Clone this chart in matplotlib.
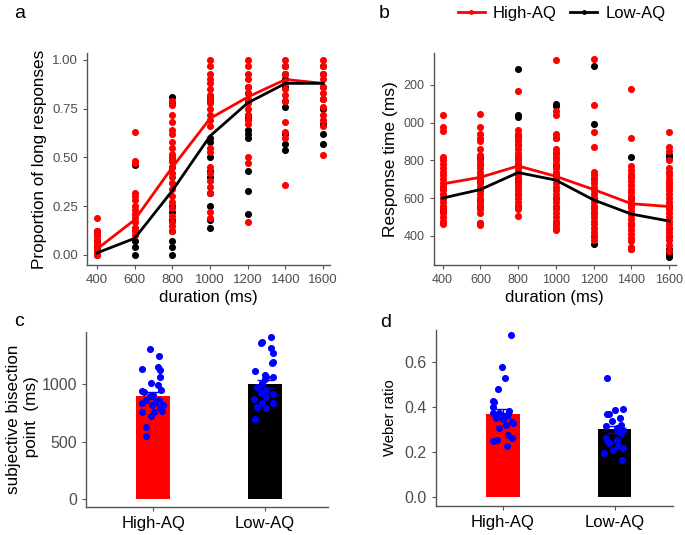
import numpy as np
import matplotlib.pyplot as plt
from matplotlib.lines import Line2D

plt.rcParams['font.family'] = ['Liberation Sans', 'DejaVu Sans']

durations = [400, 600, 800, 1000, 1200, 1400, 1600]
groups = ['High-AQ', 'Low-AQ']

# panel a: proportion of long responses
prop_high_mean = [0.03, 0.18, 0.45, 0.70, 0.81, 0.90, 0.88]
prop_low_mean = [0.01, 0.085, 0.33, 0.61, 0.78, 0.88, 0.88]
prop_high_pts = [
    [0.19, 0.12, 0.10, 0.08, 0.06, 0.05, 0.03, 0.02, 0.0],
    [0.63, 0.48, 0.47, 0.32, 0.30, 0.28, 0.25, 0.23, 0.21, 0.19, 0.17, 0.14, 0.12, 0.10],
    [0.79, 0.77, 0.72, 0.68, 0.64, 0.62, 0.58, 0.55, 0.52, 0.50, 0.48, 0.45, 0.42, 0.40,
     0.37, 0.34, 0.30, 0.27, 0.24, 0.20, 0.17, 0.15, 0.12],
    [1.0, 0.97, 0.93, 0.90, 0.88, 0.85, 0.82, 0.80, 0.78, 0.75, 0.72, 0.69, 0.66, 0.55,
     0.53, 0.45, 0.42, 0.38, 0.35, 0.32, 0.22, 0.19],
    [1.0, 0.97, 0.93, 0.90, 0.86, 0.83, 0.80, 0.78, 0.75, 0.72, 0.69, 0.67, 0.50, 0.47, 0.17],
    [1.0, 0.97, 0.93, 0.88, 0.85, 0.82, 0.79, 0.68, 0.63, 0.60, 0.36],
    [1.0, 0.97, 0.93, 0.90, 0.86, 0.83, 0.80, 0.76, 0.72, 0.69, 0.66, 0.51],
]
prop_low_pts = [
    [0.12, 0.10, 0.07, 0.04, 0.03, 0.0],
    [0.46, 0.14, 0.07, 0.04, 0.0],
    [0.81, 0.78, 0.50, 0.48, 0.45, 0.25, 0.22, 0.18, 0.12, 0.07, 0.04, 0.0],
    [0.81, 0.79, 0.60, 0.58, 0.50, 0.43, 0.40, 0.32, 0.25, 0.18, 0.14],
    [0.86, 0.83, 0.79, 0.72, 0.70, 0.64, 0.62, 0.60, 0.43, 0.33, 0.21],
    [0.97, 0.93, 0.90, 0.86, 0.79, 0.76, 0.62, 0.57, 0.54],
    [0.97, 0.93, 0.86, 0.80, 0.75, 0.67, 0.62, 0.57],
]

# panel b: response time
rt_high_mean = [675, 710, 770, 715, 645, 570, 555]
rt_low_mean = [600, 645, 735, 695, 590, 515, 478]
rt_high_pts = [
    [1041, 976, 953, 820, 800, 780, 760, 740, 720, 700, 680, 660, 640, 620, 600, 580,
     560, 540, 520, 500, 480, 460],
    [1045, 975, 940, 920, 900, 860, 830, 800, 780, 760, 740, 720, 700, 680, 660, 640,
     620, 600, 580, 560, 540, 520, 470, 455],
    [1170, 960, 940, 920, 900, 880, 860, 840, 820, 800, 780, 760, 740, 720, 700, 680,
     660, 640, 620, 600, 580, 560, 540, 505],
    [1330, 1060, 1040, 940, 920, 860, 840, 820, 800, 780, 760, 740, 720, 700, 680, 660,
     640, 620, 600, 580, 560, 540, 520, 500, 480, 460, 440, 430],
    [1335, 1095, 950, 870, 740, 720, 700, 680, 660, 640, 620, 600, 580, 560, 540, 520,
     500, 480, 460, 440, 420, 400, 380],
    [1180, 920, 770, 750, 730, 710, 690, 670, 650, 630, 610, 590, 570, 550, 530, 510,
     490, 470, 450, 430, 410, 390, 370, 340, 330],
    [950, 870, 850, 800, 760, 740, 720, 700, 680, 660, 640, 620, 600, 580, 560, 540,
     520, 500, 480, 460, 440, 420, 400, 380, 350, 320],
]
rt_low_pts = [
    [660, 600, 550, 530, 470],
    [810, 780, 700, 690, 640, 590, 560, 470],
    [1285, 1040, 1030, 930, 880, 820, 780, 740, 700, 680, 620, 560],
    [1100, 1090, 920, 840, 770, 720, 600, 550, 460],
    [1300, 990, 700, 600, 520, 400, 355],
    [820, 710, 600, 560, 460, 330],
    [830, 820, 680, 560, 440, 400, 330, 310, 300, 290],
]

# panel c: subjective bisection point
pse_mean = [900, 1000]
pse_sem = [30, 35]
pse_high = [1304, 1243, 1128, 1151, 1122, 1064, 1006, 939, 930, 991, 948, 896, 904,
            838, 860, 861, 817, 788, 759, 759, 725, 623, 551, 846, 817, 768]
pse_high_jit = [-0.03, 0.05, -0.1, 0.04, 0.06, 0.06, -0.02, -0.1, -0.08, 0.04, 0.07,
                -0.03, 0.0, -0.1, -0.06, 0.05, 0.09, 0.06, -0.1, 0.01, -0.02, -0.06,
                -0.06, 0.03, -0.01, 0.08]
pse_low = [1406, 1354, 1368, 1310, 1273, 1194, 1116, 1078, 1064, 1064, 1006, 971, 948,
           919, 867, 890, 913, 838, 838, 803, 788, 693, 1180, 1040]
pse_low_jit = [0.05, -0.04, -0.03, 0.05, 0.07, 0.07, -0.09, 0.0, 0.01, 0.07, -0.03,
               -0.07, 0.01, -0.04, -0.1, 0.01, 0.07, 0.07, -0.03, -0.07, 0.01, -0.09,
               0.06, 0.0]

# panel d: Weber ratio
wr_mean = [0.37, 0.30]
wr_sem = [0.02, 0.015]
wr_high = [0.72, 0.578, 0.527, 0.481, 0.428, 0.42, 0.401, 0.372, 0.375, 0.384, 0.37,
           0.35, 0.345, 0.335, 0.305, 0.32, 0.276, 0.263, 0.249, 0.253, 0.227, 0.355,
           0.36, 0.33]
wr_high_jit = [0.07, -0.01, 0.02, -0.04, -0.09, -0.08, -0.09, -0.09, -0.03, 0.06,
               0.05, -0.06, 0.0, 0.08, -0.03, 0.03, 0.05, 0.08, -0.09, -0.05, 0.04,
               -0.06, 0.02, 0.09]
wr_low = [0.53, 0.387, 0.39, 0.367, 0.37, 0.352, 0.338, 0.316, 0.32, 0.305, 0.298,
          0.283, 0.261, 0.253, 0.239, 0.227, 0.209, 0.194, 0.164, 0.216, 0.245, 0.29]
wr_low_jit = [-0.07, 0.0, 0.08, -0.07, -0.05, 0.05, -0.02, -0.08, 0.06, 0.02, 0.08,
              0.06, -0.08, 0.02, -0.05, 0.03, -0.01, -0.09, 0.07, 0.08, -0.06, 0.04]

RED = '#ff0000'
BLK = '#000000'
BLUE = '#0000ff'
AXC = '#4d4d4d'

fig = plt.figure(figsize=(6.85, 5.35), dpi=100)


def style(ax, size=11.5):
    for s in ['top', 'right']:
        ax.spines[s].set_visible(False)
    for s in ['left', 'bottom']:
        ax.spines[s].set_color('#555555')
        ax.spines[s].set_linewidth(1.0)
    ax.tick_params(colors='#555555', labelcolor=AXC, labelsize=size, length=3)


# ---- panel a
ax1 = fig.add_axes([0.127, 0.505, 0.355, 0.396])
for d, hp, lp in zip(durations, prop_high_pts, prop_low_pts):
    ax1.scatter([d] * len(lp), lp, s=26, color=BLK, lw=0, zorder=2)
    ax1.scatter([d] * len(hp), hp, s=26, color=RED, lw=0, zorder=2)
ax1.plot(durations, prop_high_mean, color=RED, lw=2, zorder=3)
ax1.plot(durations, prop_low_mean, color=BLK, lw=2, zorder=3)
ax1.set_xlim(347, 1637)
ax1.set_ylim(-0.051, 1.036)
ax1.set_xticks(durations)
ax1.set_yticks([0, 0.25, 0.5, 0.75, 1.0])
ax1.set_yticklabels(['0.00', '0.25', '0.50', '0.75', '1.00'])
ax1.set_ylabel('Proportion of long responses', fontsize=12.3, labelpad=4)
ax1.set_xlabel('duration (ms)', fontsize=12, labelpad=3)
style(ax1, size=9.5)

# ---- panel b
ax2 = fig.add_axes([0.633, 0.505, 0.354, 0.396])
for d, hp, lp in zip(durations, rt_high_pts, rt_low_pts):
    ax2.scatter([d] * len(lp), lp, s=26, color=BLK, lw=0, zorder=2)
    ax2.scatter([d] * len(hp), hp, s=26, color=RED, lw=0, zorder=2)
ax2.plot(durations, rt_high_mean, color=RED, lw=2, zorder=3)
ax2.plot(durations, rt_low_mean, color=BLK, lw=2, zorder=3)
ax2.set_xlim(352, 1637)
ax2.set_ylim(246, 1369)
ax2.set_xticks(durations)
ax2.set_yticks([400, 600, 800, 1000, 1200])
ax2.set_yticklabels(['400', '600', '800', '000', '200'])
ax2.set_ylabel('Response time (ms)', fontsize=12.5, labelpad=4)
ax2.set_xlabel('duration (ms)', fontsize=12, labelpad=3)
style(ax2, size=9)

handles = [Line2D([0], [0], color=RED, lw=2, marker='o', markersize=2.5),
           Line2D([0], [0], color=BLK, lw=2, marker='o', markersize=2.5)]
fig.legend(handles, groups, loc='center', bbox_to_anchor=(0.82, 0.975), ncol=2,
           frameon=False, fontsize=12, handlelength=1.6, handletextpad=0.5,
           columnspacing=0.8)

# ---- panel c
ax3 = fig.add_axes([0.1255, 0.0523, 0.353, 0.327])
ax3.bar([0, 1], pse_mean, width=0.3, color=[RED, BLK], zorder=1)
ax3.errorbar([0, 1], pse_mean, yerr=pse_sem, fmt='none', ecolor=BLUE, elinewidth=1,
             capsize=6, zorder=2)
ax3.scatter(np.array(pse_high_jit), pse_high, s=26, color=BLUE, lw=0, zorder=3)
ax3.scatter(1 + np.array(pse_low_jit), pse_low, s=26, color=BLUE, lw=0, zorder=3)
ax3.set_xlim(-0.6, 1.56)
ax3.set_ylim(-70, 1452)
ax3.set_yticks([0, 500, 1000])
ax3.set_xticks([0, 1])
ax3.set_xticklabels(groups)
ax3.set_ylabel('subjective bisection\n point  (ms)', fontsize=12.3, labelpad=2)
style(ax3, size=11.5)
for t in ax3.get_xticklabels():
    t.set_color('black')
    t.set_fontsize(12)

# ---- panel d
ax4 = fig.add_axes([0.636, 0.0542, 0.346, 0.329])
ax4.bar([0, 1], wr_mean, width=0.3, color=[RED, BLK], zorder=1)
ax4.errorbar([0, 1], wr_mean, yerr=wr_sem, fmt='none', ecolor=BLUE, elinewidth=1,
             capsize=6, zorder=2)
ax4.scatter(np.array(wr_high_jit), wr_high, s=26, color=BLUE, lw=0, zorder=3)
ax4.scatter(1 + np.array(wr_low_jit), wr_low, s=26, color=BLUE, lw=0, zorder=3)
ax4.set_xlim(-0.6, 1.52)
ax4.set_ylim(-0.04, 0.742)
ax4.set_yticks([0, 0.2, 0.4, 0.6])
ax4.set_xticks([0, 1])
ax4.set_xticklabels(groups)
ax4.set_ylabel('Weber ratio', fontsize=10.7, labelpad=5)
style(ax4, size=11.5)
for t in ax4.get_xticklabels():
    t.set_color('black')
    t.set_fontsize(12)

# panel letters
for x, y, s in [(0.02, 0.975, 'a'), (0.553, 0.975, 'b'), (0.02, 0.40, 'c'),
                (0.555, 0.397, 'd')]:
    fig.text(x, y, s, fontsize=14, va='center', ha='left')

fig.savefig('out.png', dpi=100)
